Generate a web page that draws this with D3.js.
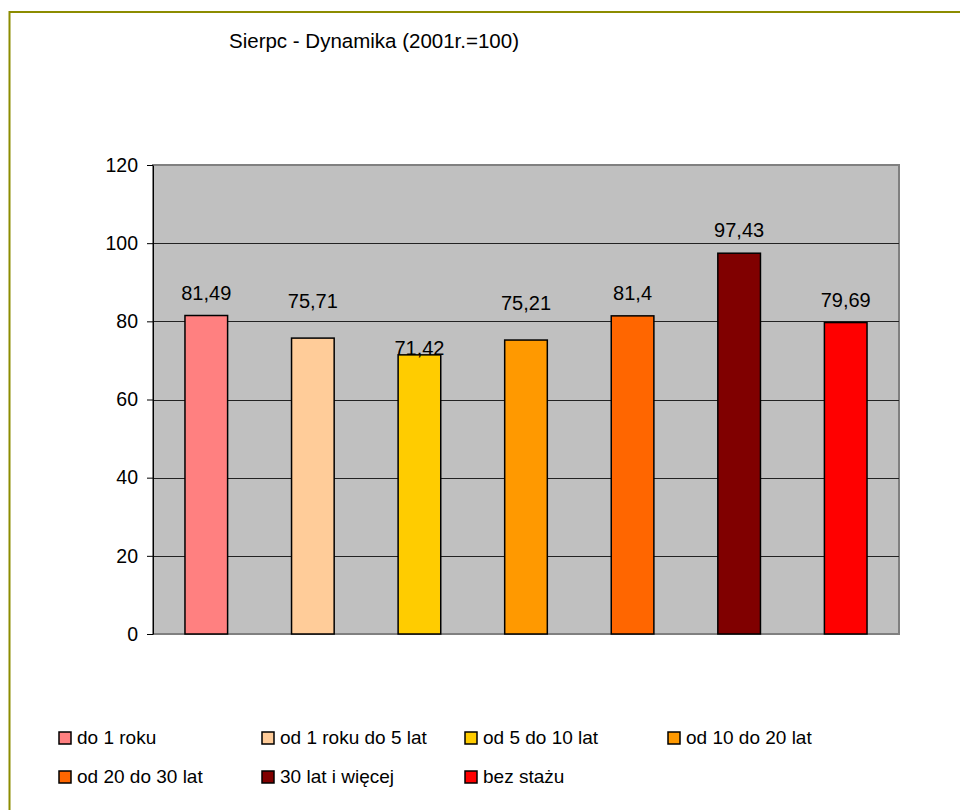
<!DOCTYPE html>
<html>
<head>
<meta charset="utf-8">
<script src="https://cdnjs.cloudflare.com/ajax/libs/d3/7.8.5/d3.min.js"></script>
<style>
  body { margin: 0; background: #fff; overflow: hidden; }
  svg { display: block; }
  svg text { font-family: Arial, "Liberation Sans", sans-serif; fill: #000; }
</style>
</head>
<body>
<svg width="960" height="810"></svg>
<script>
// dane
var title = "Sierpc - Dynamika (2001r.=100)";
var categories = ["do 1 roku", "od 1 roku do 5 lat", "od 5 do 10 lat", "od 10 do 20 lat",
                  "od 20 do 30 lat", "30 lat i więcej", "bez stażu"];
var values = [81.49, 75.71, 71.42, 75.21, 81.4, 97.43, 79.69];
var labels = ["81,49", "75,71", "71,42", "75,21", "81,4", "97,43", "79,69"];
var colors = ["#FF8080", "#FFCC99", "#FFCC00", "#FF9900", "#FF6600", "#800000", "#FF0000"];
var yTicks = [0, 20, 40, 60, 80, 100, 120];

var svg = d3.select("svg"),
    plot = {left: 153, top: 165, right: 899, bottom: 634};

// ramka wykresu (widoczna tylko gora i lewa strona)
svg.append("path")
    .attr("d", "M9.5,810V12H960")
    .attr("fill", "none")
    .attr("stroke", "#8c8c00")
    .attr("stroke-width", 2);

svg.append("text")
    .attr("x", 229).attr("y", 48)
    .style("font-size", "20.5px")
    .text(title);

var x = d3.scaleBand()
    .domain(categories)
    .range([plot.left, plot.right])
    .paddingInner(0.6)
    .paddingOuter(0.3);

var y = d3.scaleLinear()
    .domain([0, 120])
    .range([plot.bottom, plot.top]);

var g = svg.append("g");

g.append("rect")
    .attr("x", plot.left).attr("y", plot.top)
    .attr("width", plot.right - plot.left)
    .attr("height", plot.bottom - plot.top)
    .attr("fill", "#C0C0C0")
    .attr("stroke", "#808080")
    .attr("stroke-width", 2);

// linie siatki
g.selectAll(".grid")
    .data(yTicks.filter(function(d) { return d > 0 && d < 120; }))
    .enter().append("line")
    .attr("class", "grid")
    .attr("x1", plot.left).attr("x2", plot.right)
    .attr("y1", function(d) { return Math.round(y(d)) + 0.5; })
    .attr("y2", function(d) { return Math.round(y(d)) + 0.5; })
    .attr("stroke", "#222")
    .attr("stroke-width", 1);

// os Y
var yAxis = g.append("g")
    .attr("transform", "translate(" + plot.left + ",0)")
    .call(d3.axisLeft(y).tickValues(yTicks).tickSize(6).tickPadding(9).tickSizeOuter(0));
yAxis.select(".domain").attr("stroke", "#000");
yAxis.selectAll("line").attr("stroke", "#000");
yAxis.selectAll("text")
    .style("font-size", "19.5px")
    .style("font-family", "Arial, 'Liberation Sans', sans-serif")
    .attr("fill", "#000");

// slupki
g.selectAll(".bar")
    .data(values)
    .enter().append("rect")
    .attr("class", "bar")
    .attr("x", function(d, i) { return x(categories[i]); })
    .attr("y", function(d) { return y(d); })
    .attr("width", x.bandwidth())
    .attr("height", function(d) { return plot.bottom - y(d); })
    .attr("fill", function(d, i) { return colors[i]; })
    .attr("stroke", "#000")
    .attr("stroke-width", 1.5);

// etykiety danych (Excel przesuwa czesc z nich)
function labelGap(i) {
    if (i === 2) return 0;
    if (i === 1 || i === 3) return 30;
    return 16;
}
g.selectAll(".lbl")
    .data(values)
    .enter().append("text")
    .attr("class", "lbl")
    .attr("x", function(d, i) { return x(categories[i]) + x.bandwidth() / 2; })
    .attr("y", function(d, i) { return y(d) - labelGap(i); })
    .attr("text-anchor", "middle")
    .style("font-size", "20px")
    .text(function(d, i) { return labels[i]; });

// legenda
var legend = svg.selectAll(".leg")
    .data(categories)
    .enter().append("g")
    .attr("class", "leg")
    .attr("transform", function(d, i) {
        return "translate(" + (59 + (i % 4) * 203) + "," + (732 + Math.floor(i / 4) * 39) + ")";
    });
legend.append("rect")
    .attr("width", 12).attr("height", 12)
    .attr("fill", function(d, i) { return colors[i]; })
    .attr("stroke", "#000")
    .attr("stroke-width", 1.5);
legend.append("text")
    .attr("x", 18).attr("y", 12)
    .style("font-size", "19px")
    .text(function(d) { return d; });
</script>
</body>
</html>
